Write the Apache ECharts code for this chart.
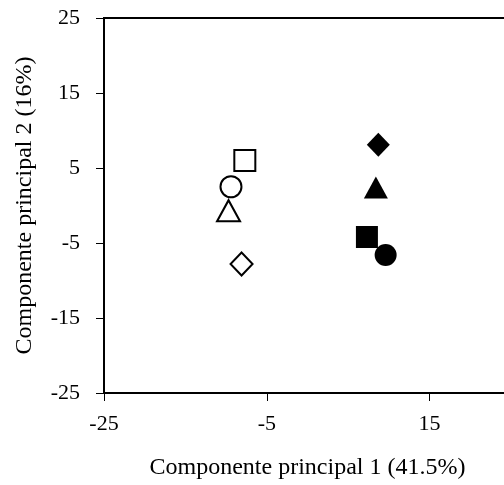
<!DOCTYPE html>
<html>
<head>
<meta charset="utf-8">
<script src="https://cdn.jsdelivr.net/npm/echarts@6/dist/echarts.min.js"></script>
<style>html,body{margin:0;padding:0;background:#fff}#c{width:504px;height:485px}</style>
</head>
<body>
<div id="c"></div>
<script>
var xTitle = 'Componente principal 1 (41.5%)';
var yTitle = 'Componente principal 2 (16%)';
var xTicks = [-25, -5, 15];
var yTicks = [-25, -15, -5, 5, 15, 25];
var groupNames = ['open square', 'open circle', 'open triangle', 'open diamond', 'filled diamond', 'filled triangle', 'filled square', 'filled circle'];
var pc1 = [-7.7, -9.4, -9.7, -8.1, 8.7, 8.4, 7.3, 9.6];
var pc2 = [6.0, 2.5, -0.7, -7.8, 8.1, 2.4, -4.2, -6.6];
var symbols = ['rect', 'circle', 'triangle', 'diamond', 'diamond', 'triangle', 'rect', 'circle'];
var filled = [false, false, false, false, true, true, true, true];

var sizes = { rect: [21, 21], circle: [21, 21], triangle: [23, 21], diamond: [22, 23] };
var series = groupNames.map(function (n, i) {
  return {
    name: n,
    type: 'scatter',
    symbol: symbols[i],
    symbolSize: filled[i] ? [sizes[symbols[i]][0] + 1, sizes[symbols[i]][1] + 1] : sizes[symbols[i]],
    itemStyle: filled[i] ? { color: '#000', borderWidth: 0, opacity: 1 } : { color: '#fff', borderColor: '#000', borderWidth: 2, opacity: 1 },
    data: [[pc1[i], pc2[i]]],
    z: 3
  };
});

var font = 'Liberation Serif, Times New Roman, serif';
var chart = echarts.init(document.getElementById('c'), null, { renderer: 'canvas' });
chart.setOption({
  animation: false,
  backgroundColor: '#fff',
  grid: { left: 104, top: 18, width: 407, height: 375, outerBoundsMode: 'none', containLabel: false, show: true, borderColor: '#000', borderWidth: 2, backgroundColor: 'transparent' },
  xAxis: {
    type: 'value', min: xTicks[0], max: 25, interval: xTicks[1] - xTicks[0],
    name: xTitle, nameLocation: 'middle', nameGap: 63,
    nameTextStyle: { fontFamily: font, fontSize: 24, color: '#000' },
    axisLine: { show: true, onZero: false, lineStyle: { color: '#000', width: 2 } },
    axisTick: { show: true, inside: false, length: 8, lineStyle: { color: '#000', width: 1 } },
    axisLabel: { fontFamily: font, fontSize: 22, color: '#000', margin: 20, showMaxLabel: false },
    splitLine: { show: false }
  },
  yAxis: {
    type: 'value', min: yTicks[0], max: yTicks[yTicks.length - 1], interval: yTicks[1] - yTicks[0],
    name: yTitle, nameLocation: 'middle', nameGap: 67, nameRotate: 90,
    nameTextStyle: { fontFamily: font, fontSize: 24, color: '#000' },
    axisLine: { show: true, onZero: false, lineStyle: { color: '#000', width: 2 } },
    axisTick: { show: true, inside: false, length: 8, lineStyle: { color: '#000', width: 1 } },
    axisLabel: { fontFamily: font, fontSize: 22, color: '#000', margin: 24 },
    splitLine: { show: false }
  },
  series: series
});
</script>
</body>
</html>
